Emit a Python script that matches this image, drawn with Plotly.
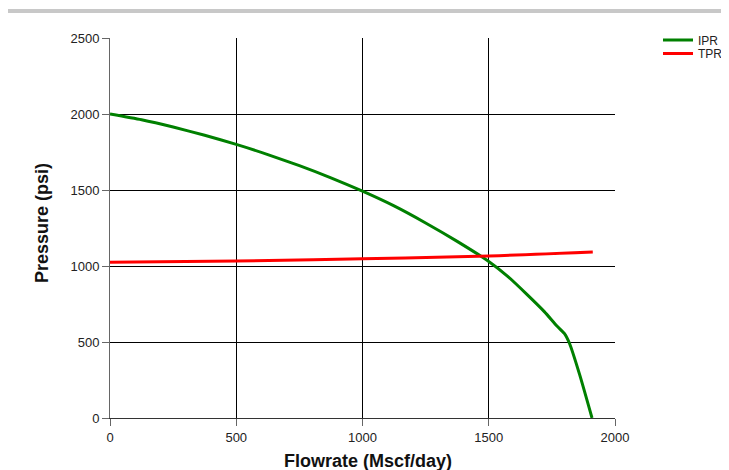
import plotly.graph_objects as go

ipr_q = [0, 125, 250, 375, 500, 625, 750, 875, 1000, 1125, 1250, 1375, 1500, 1575, 1650, 1720, 1770, 1800, 1820, 1860, 1909]
ipr_p = [2000, 1962, 1914, 1860, 1800, 1733, 1660, 1580, 1492, 1395, 1283, 1162, 1030, 932, 815, 700, 605, 555, 490, 285, 0]
tpr_q = [0, 500, 1000, 1500, 1912]
tpr_p = [1024, 1033, 1047, 1066, 1092]

x_ticks = [0, 500, 1000, 1500, 2000]
y_ticks = [0, 500, 1000, 1500, 2000, 2500]

FONT = "Arial, Liberation Sans, sans-serif"
W, H = 721, 462  # page body has an 8px margin

fig = go.Figure()
fig.add_trace(go.Scatter(x=ipr_q, y=ipr_p, mode="lines", name="IPR", legend="legend",
                         line=dict(color="#008000", width=3, shape="spline", smoothing=0.6)))
fig.add_trace(go.Scatter(x=tpr_q, y=tpr_p, mode="lines", name="TPR", legend="legend2",
                         line=dict(color="#ff0000", width=3, shape="spline")))

fig.add_shape(type="line", xref="paper", yref="paper", x0=-0.21, x1=1.23, y0=1.0711, y1=1.0711,
              line=dict(color="#c8c8c8", width=4))

fig.add_annotation(text="<b>Flowrate (Mscf/day)</b>", xref="paper", yref="paper",
                   x=0.511, y=-0.113, xanchor="center", yanchor="middle", showarrow=False,
                   font=dict(family=FONT, size=18, color="#111"))
fig.add_annotation(text="<b>Pressure (psi)</b>", xref="paper", yref="paper",
                   x=-0.1347, y=0.513, xanchor="center", yanchor="middle", showarrow=False,
                   textangle=-90, font=dict(family=FONT, size=18, color="#111"))

leg_common = dict(xref="container", yref="container", xanchor="left", yanchor="middle",
                  font=dict(family=FONT, size=12, color="#222"), itemwidth=30,
                  bgcolor="rgba(0,0,0,0)", borderwidth=0)
axis_font = dict(family=FONT, size=13, color="#222")
fig.update_layout(
    width=W, height=H,
    margin=dict(l=102, r=114, t=30, b=52, autoexpand=False),
    paper_bgcolor="white", plot_bgcolor="white",
    showlegend=True,
    legend=dict(x=650 / W, y=1 - 32 / H, **leg_common),
    legend2=dict(x=650 / W, y=1 - 45.5 / H, **leg_common),
    xaxis=dict(range=[0, 2000], tickvals=x_ticks, showgrid=True, gridcolor="#000", gridwidth=1,
               ticks="outside", ticklen=7, tickcolor="#666", showline=True, linecolor="#333",
               zeroline=False, tickfont=axis_font, automargin=False),
    yaxis=dict(range=[0, 2500], tickvals=y_ticks, showgrid=True, gridcolor="#000", gridwidth=1,
               ticks="outside", ticklen=7, tickcolor="#666", showline=True, linecolor="#666",
               zeroline=False, tickfont=axis_font, automargin=False),
)
fig.write_html("out.html")
